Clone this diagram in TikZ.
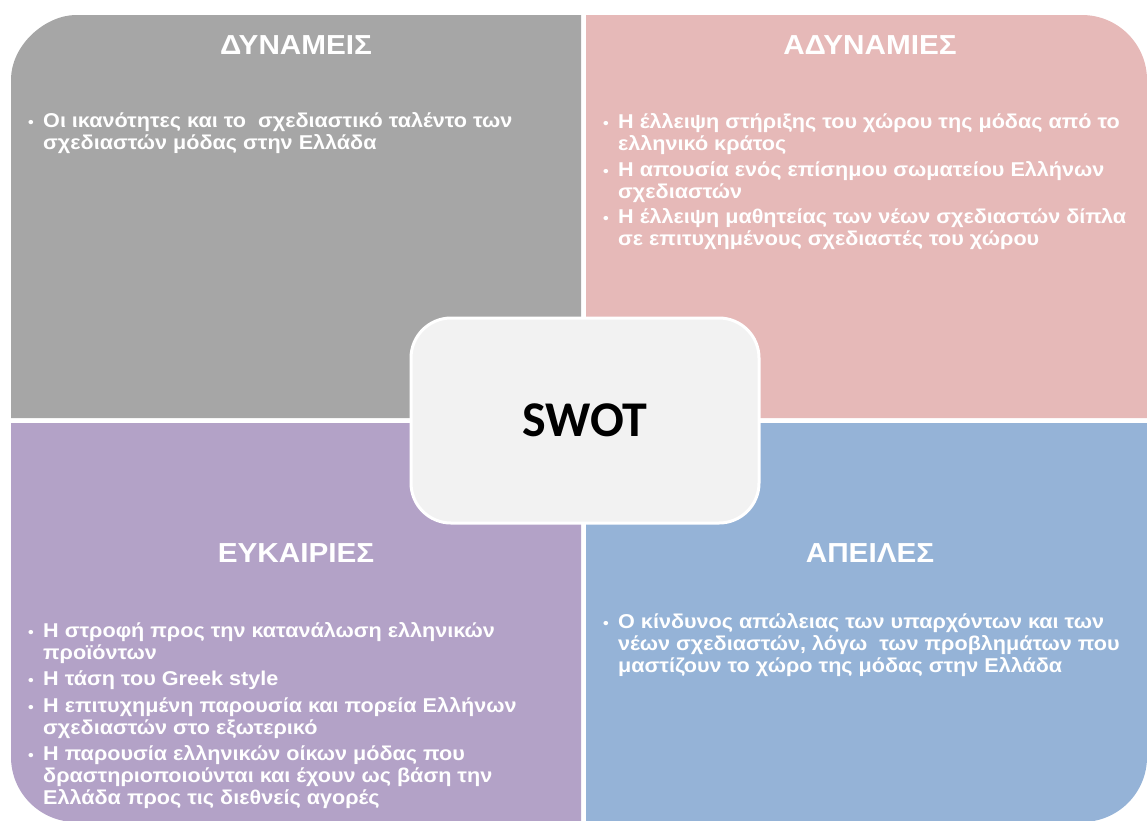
\documentclass[tikz,border=0pt]{standalone}
\usepackage{fontspec}
\setmainfont{Liberation Sans}[FakeStretch=1.08]
\newfontfamily\swotfont{Carlito}
\definecolor{qgray}{HTML}{A6A6A6}
\definecolor{qpink}{HTML}{E6B9B8}
\definecolor{qpurple}{HTML}{B3A2C7}
\definecolor{qblue}{HTML}{95B3D7}
\definecolor{cbox}{HTML}{F2F2F2}
\begin{document}
\begin{tikzpicture}[x=1pt,y=-1pt,
  head/.style={text=white,font=\fontsize{27.5}{32}\selectfont\bfseries,inner sep=0pt},
  item/.style={text=white,font=\fontsize{20}{22}\selectfont\bfseries,align=left,inner sep=0pt,anchor=base west},
  bul/.style={text=white,font=\fontsize{15}{17}\selectfont\bfseries,inner sep=0pt,anchor=base},
  centerbox/.style={fill=cbox,draw=white,line width=3pt,rounded corners=40pt,minimum width=348pt,minimum height=205pt,inner sep=0pt,font=\swotfont\fontsize{50}{54}\selectfont\bfseries}]
\useasboundingbox (0,0) rectangle (1147,820);
% quadrants
\fill[qgray] (11,418) -- (11,80) .. controls (11,44.1) and (46.1,15) .. (76,15) -- (581,15) -- (581,418) -- cycle;
\fill[qpink] (586,418) -- (586,15) -- (1082,15) .. controls (1117.9,15) and (1147,44.1) .. (1147,80) -- (1147,418) -- cycle;
\fill[qpurple] (11,423) -- (581,423) -- (581,822) -- (76,822) .. controls (40.1,822) and (11,792.9) .. (11,757) -- cycle;
\fill[qblue] (586,423) -- (1147,423) -- (1147,757) .. controls (1147,792.9) and (1117.9,822) .. (1082,822) -- (586,822) -- cycle;
% headings
\node[head] (hS) at (296,45) {ΔΥΝΑΜΕΙΣ};
\node[head] (hW) at (870,45) {ΑΔΥΝΑΜΙΕΣ};
\node[head] (hO) at (296,553) {ΕΥΚΑΙΡΙΕΣ};
\node[head] (hT) at (870,553) {ΑΠΕΙΛΕΣ};
% strengths (node anchor = baseline of last line)
\node[bul] (bS1) at (31,127) {•};
\node[item] (tS1) at (43,149) {Οι ικανότητες και το \ σχεδιαστικό ταλέντο των\\σχεδιαστών μόδας στην Ελλάδα};
% weaknesses
\node[bul] (bW1) at (606,128) {•};
\node[item] (tW1) at (618,150) {Η έλλειψη στήριξης του χώρου της μόδας από το\\ελληνικό κράτος};
\node[bul] (bW2) at (606,176) {•};
\node[item] (tW2) at (618,198) {Η απουσία ενός επίσημου σωματείου Ελλήνων\\σχεδιαστών};
\node[bul] (bW3) at (606,223) {•};
\node[item] (tW3) at (618,245) {Η έλλειψη μαθητείας των νέων σχεδιαστών δίπλα\\σε επιτυχημένους σχεδιαστές του χώρου};
% opportunities
\node[bul] (bO1) at (31,637) {•};
\node[item] (tO1) at (43,659) {Η στροφή προς την κατανάλωση ελληνικών\\προϊόντων};
\node[bul] (bO2) at (31,685) {•};
\node[item] (tO2) at (43,685) {Η τάση του Greek style};
\node[bul] (bO3) at (31,712) {•};
\node[item] (tO3) at (43,734) {Η επιτυχημένη παρουσία και πορεία Ελλήνων\\σχεδιαστών στο εξωτερικό};
\node[bul] (bO4) at (31,760) {•};
\node[item] (tO4) at (43,804) {Η παρουσία ελληνικών οίκων μόδας που\\δραστηριοποιούνται και έχουν ως βάση την\\Ελλάδα προς τις διεθνείς αγορές};
% threats
\node[bul] (bT1) at (606,628) {•};
\node[item] (tT1) at (618,672) {Ο κίνδυνος απώλειας των υπαρχόντων και των\\νέων σχεδιαστών, λόγω \ των προβλημάτων που\\μαστίζουν το χώρο της μόδας στην Ελλάδα};
% center
\node[centerbox] (swot) at (585,420.5) {SWOT};
\end{tikzpicture}
\end{document}
